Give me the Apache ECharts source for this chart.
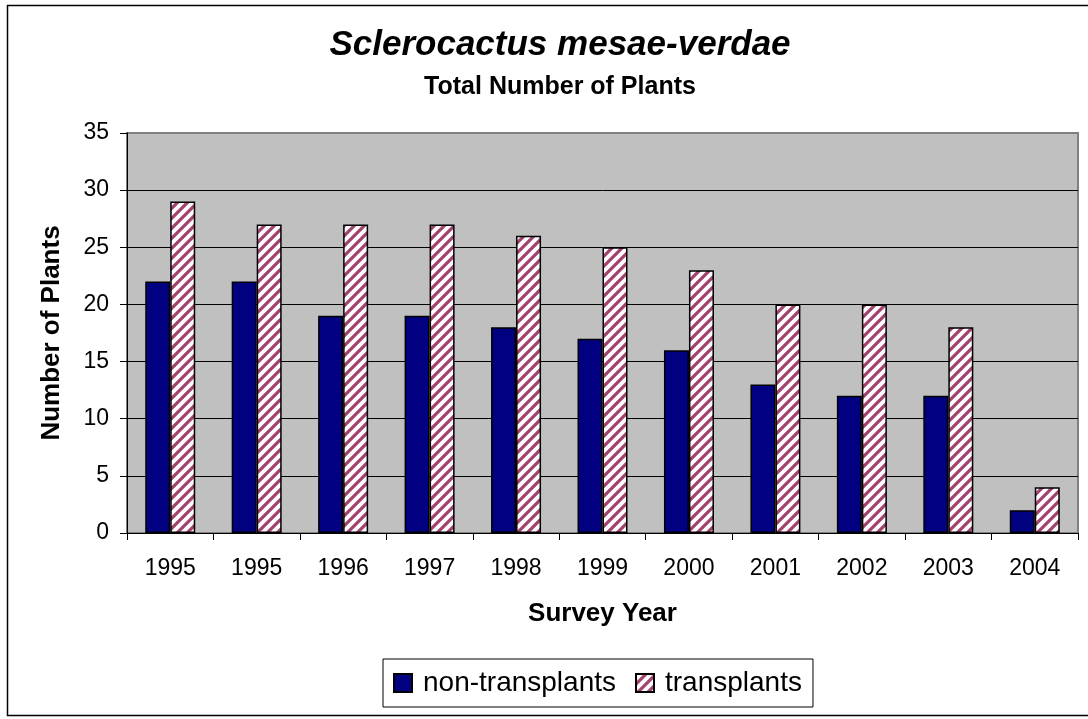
<!DOCTYPE html>
<html>
<head>
<meta charset="utf-8">
<title>Sclerocactus mesae-verdae</title>
<script src="https://cdn.jsdelivr.net/npm/echarts@6/dist/echarts.min.js"></script>
<style>
  html, body { margin: 0; padding: 0; background: #fff; }
  #chart { width: 1088px; height: 719px; }
</style>
</head>
<body>
<div id="chart"></div>
<script>
// survey years (1995 was surveyed twice)
var years = ['1995', '1995', '1996', '1997', '1998', '1999', '2000', '2001', '2002', '2003', '2004'];
var nonTransplants = [22, 22, 19, 19, 18, 17, 16, 13, 12, 12, 2];
var transplants = [29, 27, 27, 27, 26, 25, 23, 20, 20, 18, 4];
var yTicks = [0, 5, 10, 15, 20, 25, 30, 35];

var FONT = "'Liberation Sans', Arial, sans-serif";

// diagonal stripes, like the excel pattern fill
function hatch() {
  var s = 10;
  var c = document.createElement('canvas');
  c.width = s; c.height = s;
  var g = c.getContext('2d');
  g.fillStyle = '#ffffff';
  g.fillRect(0, 0, s, s);
  g.strokeStyle = '#a3416f';
  g.lineWidth = 3.2;
  g.beginPath();
  g.moveTo(-2, s + 2); g.lineTo(s + 2, -2);
  g.moveTo(-2, 2); g.lineTo(2, -2);
  g.moveTo(s - 2, s + 2); g.lineTo(s + 2, s - 2);
  g.stroke();
  return c;
}

var myChart = echarts.init(document.getElementById('chart'));
myChart.setOption({
  animation: false,
  backgroundColor: '#ffffff',
  textStyle: { fontFamily: FONT },
  title: [
    {
      text: 'Sclerocactus mesae-verdae',
      left: 555, top: 23, textAlign: 'center',
      textStyle: { fontSize: 35, fontStyle: 'italic', fontWeight: 'bold', color: '#000', fontFamily: FONT }
    },
    {
      text: 'Total Number of Plants',
      left: 555, top: 70, textAlign: 'center',
      textStyle: { fontSize: 25, fontWeight: 'bold', color: '#000', fontFamily: FONT }
    }
  ],
  graphic: [{
    type: 'rect',
    shape: { x: 7.5, y: 5.5, width: 1120, height: 710 },
    style: { fill: 'none', stroke: '#000', lineWidth: 1.5 },
    silent: true, z: -1
  }],
  legend: {
    left: 383, top: 659,
    selectedMode: false,
    icon: 'rect',
    itemWidth: 18, itemHeight: 18, itemGap: 19,
    padding: [10, 11, 10, 10],
    borderColor: '#000', borderWidth: 1,
    backgroundColor: '#fff',
    textStyle: { fontSize: 28, color: '#000', fontFamily: FONT, padding: [0, 0, 0, 6] },
    data: ['non-transplants', 'transplants']
  },
  grid: {
    left: 127, top: 133, right: 10, bottom: 186,
    show: true, backgroundColor: '#c0c0c0',
    borderColor: '#808080', borderWidth: 2
  },
  xAxis: {
    type: 'category',
    data: years,
    name: 'Survey Year',
    nameLocation: 'middle',
    nameGap: 68,
    nameTextStyle: { fontSize: 26, fontWeight: 'bold', color: '#000', fontFamily: FONT },
    axisLine: { lineStyle: { color: '#000', width: 1 } },
    axisTick: { show: true, length: 7, lineStyle: { color: '#000' } },
    axisLabel: { fontSize: 23, color: '#000', margin: 24, fontFamily: FONT }
  },
  yAxis: {
    type: 'value',
    min: yTicks[0], max: yTicks[yTicks.length - 1], interval: 5,
    name: 'Number of Plants',
    nameLocation: 'middle',
    nameGap: 62,
    nameTextStyle: { fontSize: 26, fontWeight: 'bold', color: '#000', fontFamily: FONT },
    axisLine: { show: true, lineStyle: { color: '#000', width: 1 } },
    axisTick: { show: true, length: 7, lineStyle: { color: '#000' } },
    axisLabel: { fontSize: 23, color: '#000', margin: 18, fontFamily: FONT },
    splitLine: { show: true, showMaxLine: false, lineStyle: { color: '#000', width: 1 } }
  },
  series: [
    {
      name: 'non-transplants',
      type: 'bar',
      data: nonTransplants,
      barWidth: 25,
      barGap: '0%',
      itemStyle: { color: '#000080', borderColor: '#000', borderWidth: 1.5 }
    },
    {
      name: 'transplants',
      type: 'bar',
      data: transplants,
      barWidth: 25,
      barGap: '0%',
      itemStyle: {
        color: { image: hatch(), repeat: 'repeat' },
        borderColor: '#000', borderWidth: 1.5
      }
    }
  ]
});
</script>
</body>
</html>
